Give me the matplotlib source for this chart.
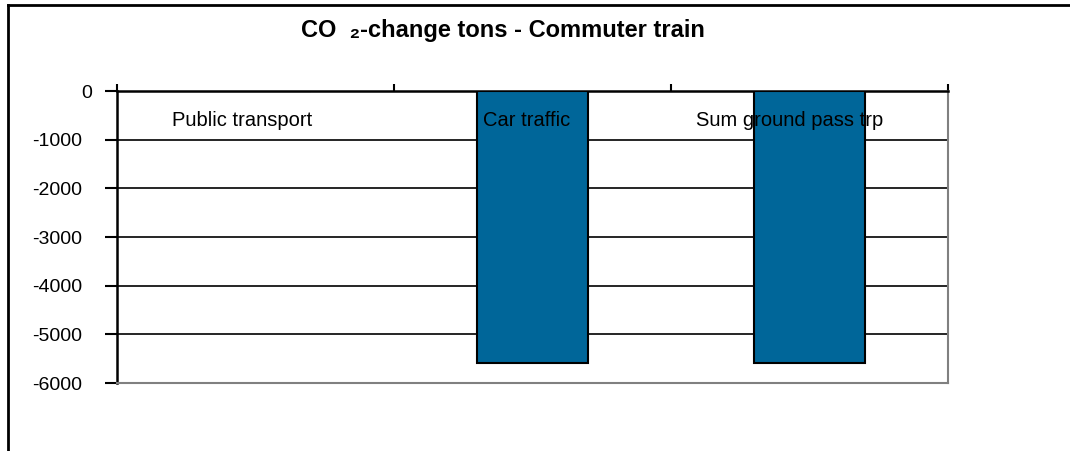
import matplotlib
matplotlib.use("Agg")
from matplotlib import pyplot as plt
from matplotlib import lines as mlines
from matplotlib import transforms as mtransforms

plt.rcParams['font.family'] = ['Liberation Sans', 'DejaVu Sans']

categories = ['Public transport', 'Car traffic', 'Sum ground pass trp']
co2_change = [0, -5590, -5590]
y_ticks = [0, -1000, -2000, -3000, -4000, -5000, -6000]

fig = plt.figure(figsize=(10.7, 4.51), dpi=100)
ax = fig.add_axes([117/1070, 1-383/451, (948-117)/1070, (383-91)/451])

x = list(range(len(categories)))
ax.bar(x, co2_change, width=0.4, color='#006699', edgecolor='black', linewidth=1.5, zorder=3)

ax.set_xlim(-0.5, len(categories)-0.5)
ax.set_ylim(-6000, 0)
ax.set_yticks(y_ticks)
ax.set_yticklabels([str(v) for v in y_ticks], fontsize=14)
ax.tick_params(axis='y', direction='out', length=9, width=1.5, pad=16)
for v in y_ticks[1:-1]:
    ax.axhline(v, color='black', linewidth=1.2, zorder=1)

# the "0" label sits a bit further right in the original
zero_lbl = ax.get_yticklabels()[0]
zero_lbl.set_transform(zero_lbl.get_transform() +
                       mtransforms.ScaledTranslation(10/100, 0, fig.dpi_scale_trans))

# ticks on the zero line, between categories
ax.xaxis.tick_top()
ax.set_xticks([i-0.5 for i in range(len(categories)+1)])
ax.set_xticklabels([])
ax.tick_params(axis='x', direction='out', length=5, width=1.5)

label_shift = [-0.05, -0.02, -0.07]
for i, name in enumerate(categories):
    ax.text(i+label_shift[i], -600, name, ha='center', va='center', fontsize=14.5, zorder=4)

ax.spines['left'].set_color('black')
ax.spines['left'].set_linewidth(1.8)
ax.spines['top'].set_color('black')
ax.spines['top'].set_linewidth(1.8)
ax.spines['bottom'].set_color('#808080')
ax.spines['bottom'].set_linewidth(1.5)
ax.spines['right'].set_color('#808080')
ax.spines['right'].set_linewidth(1.5)

fig.text(503/1070, 1-30/451, 'CO  \u2082-change tons - Commuter train',
         ha='center', va='center', fontsize=17, fontweight='bold')

# outer chart frame (only left and top visible)
fig.add_artist(mlines.Line2D([8/1070, 8/1070], [0, 1-5/451], color='black', linewidth=2))
fig.add_artist(mlines.Line2D([8/1070, 1], [1-5/451, 1-5/451], color='black', linewidth=2))

fig.savefig('out.png', dpi=100)
